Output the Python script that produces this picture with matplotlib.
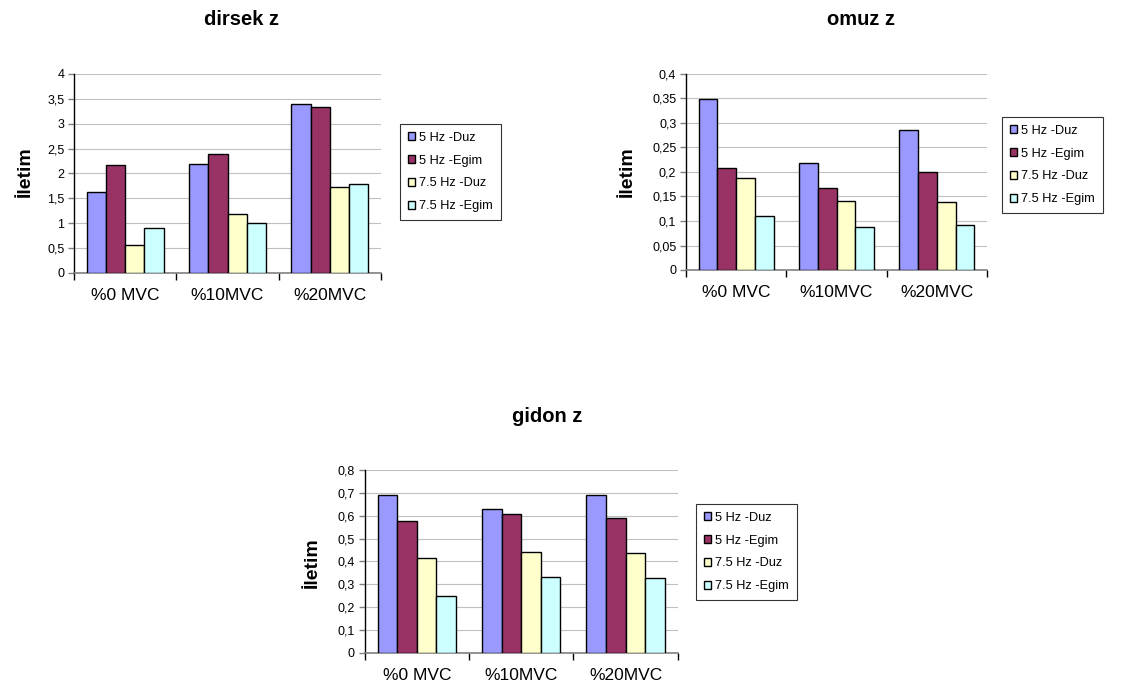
import matplotlib
matplotlib.use("Agg")
import matplotlib.pyplot as plt
import numpy as np

plt.rcParams['font.family'] = ['Liberation Sans', 'DejaVu Sans']

kategoriler = ['%0 MVC', '%10MVC', '%20MVC']
seriler = ['5 Hz -Duz', '5 Hz -Egim', '7.5 Hz -Duz', '7.5 Hz -Egim']
renkler = ['#9999FF', '#993366', '#FFFFCC', '#CCFFFF']

# dirsek z
dirsek_5duz = [1.63, 2.19, 3.40]
dirsek_5egim = [2.16, 2.38, 3.34]
dirsek_75duz = [0.56, 1.18, 1.72]
dirsek_75egim = [0.89, 1.00, 1.78]
dirsek_yticks = [0, 0.5, 1, 1.5, 2, 2.5, 3, 3.5, 4]
dirsek_ylabels = ['0', '0,5', '1', '1,5', '2', '2,5', '3', '3,5', '4']

# omuz z
omuz_5duz = [0.348, 0.219, 0.286]
omuz_5egim = [0.208, 0.168, 0.199]
omuz_75duz = [0.188, 0.140, 0.138]
omuz_75egim = [0.111, 0.087, 0.092]
omuz_yticks = [0, 0.05, 0.1, 0.15, 0.2, 0.25, 0.3, 0.35, 0.4]
omuz_ylabels = ['0', '0,05', '0,1', '0,15', '0,2', '0,25', '0,3', '0,35', '0,4']

# gidon z
gidon_5duz = [0.689, 0.629, 0.689]
gidon_5egim = [0.575, 0.607, 0.591]
gidon_75duz = [0.416, 0.441, 0.436]
gidon_75egim = [0.250, 0.333, 0.327]
gidon_yticks = [0, 0.1, 0.2, 0.3, 0.4, 0.5, 0.6, 0.7, 0.8]
gidon_ylabels = ['0', '0,1', '0,2', '0,3', '0,4', '0,5', '0,6', '0,7', '0,8']


def grafik(fig, rect, veri, yticks, ylabels, baslik, baslik_xy, etiket_xy, legend_xy):
    ax = fig.add_axes(rect)
    x = np.arange(len(kategoriler))
    w = 0.1875
    for k, (degerler, renk, ad) in enumerate(zip(veri, renkler, seriler)):
        ax.bar(x + (k - 1.5) * w, degerler, w, color=renk, edgecolor='black',
               linewidth=1.0, label=ad, zorder=3)
    ax.set_xlim(-0.5, len(kategoriler) - 0.5)
    ax.set_ylim(yticks[0], yticks[-1])
    ax.set_yticks(yticks)
    ax.set_yticklabels(ylabels, fontsize=9)
    ax.set_xticks(x)
    ax.set_xticklabels(kategoriler, fontsize=12.5)
    ax.tick_params(axis='x', which='major', length=0, pad=11)
    ax.set_xticks(np.arange(-0.5, len(kategoriler), 1.0), minor=True)
    ax.tick_params(axis='x', which='minor', length=5, width=1, color='black', direction='out')
    ax.tick_params(axis='y', length=4, width=1, color='#808080', direction='out', pad=3)
    ax.grid(axis='y', color='#C0C0C0', linewidth=0.8, zorder=0)
    for s in ['top', 'right']:
        ax.spines[s].set_visible(False)
    ax.spines['left'].set_color('black')
    ax.spines['bottom'].set_color('#808080')
    ax.spines['left'].set_linewidth(1.0)
    ax.spines['bottom'].set_linewidth(1.2)

    fig.text(baslik_xy[0], baslik_xy[1], baslik, fontsize=14.5, fontweight='bold',
             ha='center', va='baseline')
    fig.text(etiket_xy[0], etiket_xy[1], 'İletim', fontsize=14, fontweight='bold',
             rotation=90, ha='center', va='center')
    leg = ax.legend(loc='upper left', bbox_to_anchor=legend_xy,
                    bbox_transform=fig.transFigure, fontsize=9.2,
                    frameon=True, fancybox=False, edgecolor='black',
                    handlelength=0.6, handleheight=0.6, handletextpad=0.3,
                    labelspacing=0.85, borderpad=0.6, borderaxespad=0)
    leg.get_frame().set_linewidth(0.8)
    for h in leg.legend_handles:
        h.set_linewidth(1.0)
    return ax


W, H = 1125, 690
fig = plt.figure(figsize=(W / 100, H / 100), dpi=100)

grafik(fig, [74 / W, 1 - 272.7 / H, 307 / W, 198.7 / H],
       [dirsek_5duz, dirsek_5egim, dirsek_75duz, dirsek_75egim],
       dirsek_yticks, dirsek_ylabels, 'dirsek z',
       (241 / W, 1 - 25 / H), (25 / W, 1 - 172 / H), (400 / W, 1 - 124 / H))

grafik(fig, [686 / W, 1 - 270 / H, 301 / W, 196 / H],
       [omuz_5duz, omuz_5egim, omuz_75duz, omuz_75egim],
       omuz_yticks, omuz_ylabels, 'omuz z',
       (861 / W, 1 - 25 / H), (627 / W, 1 - 172 / H), (1002 / W, 1 - 117 / H))

grafik(fig, [364.7 / W, 1 - 652.7 / H, 313 / W, 182.7 / H],
       [gidon_5duz, gidon_5egim, gidon_75duz, gidon_75egim],
       gidon_yticks, gidon_ylabels, 'gidon z',
       (547 / W, 1 - 422 / H), (312 / W, 1 - 563 / H), (696 / W, 1 - 504 / H))

fig.savefig('out.png', dpi=100, facecolor='white')
